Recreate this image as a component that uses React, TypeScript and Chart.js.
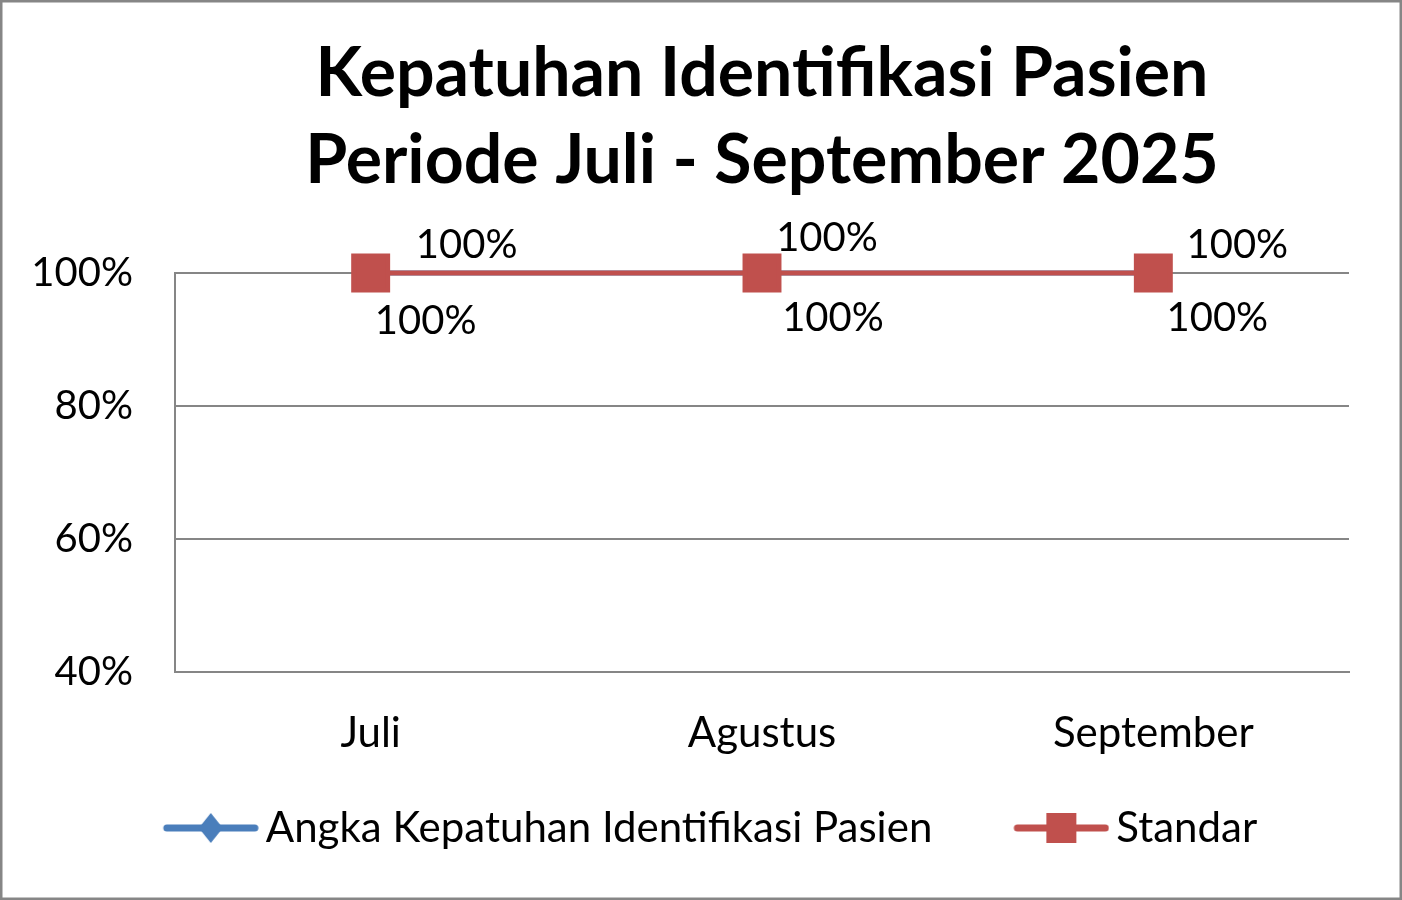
import React, { useEffect, useRef } from 'react';
import { Chart, registerables } from 'chart.js';

Chart.register(...registerables);

const months = ['Juli', 'Agustus', 'September'];
const kepatuhan = [100, 100, 100];
const standar = [100, 100, 100];
const yTicks = [40, 60, 80, 100];

const BLUE = '#4A7EBB';
const RED = '#C0504D';
const GRID = '#868686';
const FONT = 'Lato, "Noto Sans", sans-serif';

// label offsets (Excel placed them a bit to the right)
const labelOffsets = [
    [[96, -28], [65, -35], [84, -28]],
    [[55, 48], [71, 45], [64, 45]],
];

function legendIcon(color: string, marker: 'diamond' | 'square') {
    const c = document.createElement('canvas');
    c.width = 181;
    c.height = 40;
    const ctx = c.getContext('2d')!;
    const x0 = 85;
    const x1 = 181;
    const cy = 20;
    ctx.strokeStyle = color;
    ctx.lineWidth = 7;
    ctx.lineCap = 'round';
    ctx.beginPath();
    ctx.moveTo(x0 + 4, cy);
    ctx.lineTo(x1 - 4, cy);
    ctx.stroke();
    ctx.fillStyle = color;
    const mx = (x0 + x1) / 2;
    if (marker === 'diamond') {
        ctx.beginPath();
        ctx.moveTo(mx, cy - 15);
        ctx.lineTo(mx + 12, cy);
        ctx.lineTo(mx, cy + 15);
        ctx.lineTo(mx - 12, cy);
        ctx.closePath();
        ctx.fill();
    } else {
        ctx.fillRect(mx - 15, cy - 15, 30, 30);
    }
    return c;
}

const labelPlugin = {
    id: 'pointLabels',
    afterDatasetsDraw(chart: any) {
        const ctx = chart.ctx;
        ctx.save();
        ctx.font = `40px ${FONT}`;
        ctx.fillStyle = '#000';
        ctx.textAlign = 'center';
        ctx.textBaseline = 'middle';
        chart.data.datasets.forEach((ds: any, i: number) => {
            const meta = chart.getDatasetMeta(i);
            meta.data.forEach((pt: any, j: number) => {
                const [dx, dy] = labelOffsets[i][j];
                ctx.fillText(`${ds.data[j]}%`, pt.x + dx, pt.y + dy);
            });
        });
        ctx.restore();
    },
};

const borderPlugin = {
    id: 'outerBorder',
    beforeDraw(chart: any) {
        const ctx = chart.ctx;
        ctx.save();
        ctx.fillStyle = '#fff';
        ctx.fillRect(0, 0, chart.width, chart.height);
        ctx.strokeStyle = GRID;
        ctx.lineWidth = 3;
        ctx.strokeRect(1, 1, chart.width - 2, chart.height - 2);
        ctx.restore();
    },
};

export default function App() {
    const canvasRef = useRef<HTMLCanvasElement>(null);
    const chartRef = useRef<Chart | null>(null);

    useEffect(() => {
        document.body.style.margin = '0';
        if (!canvasRef.current) return;
        if (chartRef.current) chartRef.current.destroy();

        const icons = [legendIcon(BLUE, 'diamond'), legendIcon(RED, 'square')];

        chartRef.current = new Chart(canvasRef.current, {
            type: 'line',
            data: {
                labels: months,
                datasets: [
                    {
                        label: 'Angka Kepatuhan Identifikasi Pasien',
                        data: kepatuhan,
                        borderColor: BLUE,
                        backgroundColor: BLUE,
                        borderWidth: 5,
                        pointStyle: 'rectRot',
                        pointRadius: 14,
                        tension: 0,
                        clip: false,
                        order: 1,
                    },
                    {
                        label: 'Standar',
                        data: standar,
                        borderColor: RED,
                        backgroundColor: RED,
                        borderWidth: 5,
                        pointStyle: 'rect',
                        pointRadius: 24,
                        tension: 0,
                        clip: false,
                        order: 0,
                    },
                ],
            },
            options: {
                responsive: false,
                animation: false,
                layout: { padding: { top: 0, left: 0, right: 53, bottom: 41 } },
                plugins: {
                    title: {
                        display: true,
                        fullSize: false,
                        text: ['Kepatuhan Identifikasi Pasien', 'Periode Juli - September 2025'],
                        color: '#000',
                        font: { family: FONT, size: 68, weight: 'bold', lineHeight: 1.28 },
                        padding: { top: 31, bottom: 68 },
                    },
                    legend: {
                        position: 'bottom',
                        labels: {
                            color: '#000',
                            font: { family: FONT, size: 42 },
                            usePointStyle: true,
                            pointStyleWidth: 153,
                            padding: 10,
                            generateLabels: (chart: any) =>
                                chart.data.datasets.map((ds: any, i: number) => ({
                                    text: ds.label,
                                    pointStyle: icons[i],
                                    fillStyle: ds.borderColor,
                                    strokeStyle: ds.borderColor,
                                    lineWidth: 0,
                                    datasetIndex: i,
                                    fontColor: '#000',
                                })),
                        },
                    },
                    tooltip: { enabled: false },
                },
                scales: {
                    x: {
                        offset: true,
                        grid: { display: false, drawTicks: false },
                        border: { display: true, color: GRID, width: 2 },
                        ticks: { color: '#000', font: { family: FONT, size: 42 }, padding: 36 },
                        afterFit: (axis: any) => {
                            axis.height = 125;
                        },
                    },
                    y: {
                        min: 40,
                        max: 100,
                        afterBuildTicks: (axis: any) => {
                            axis.ticks = yTicks.map(v => ({ value: v }));
                        },
                        grid: { color: GRID, lineWidth: 2, drawTicks: false },
                        border: { display: true, color: GRID, width: 2 },
                        ticks: {
                            color: '#000',
                            font: { family: FONT, size: 40 },
                            padding: 42,
                            callback: (v: any) => `${v}%`,
                        },
                        afterFit: (axis: any) => {
                            axis.width = 175;
                        },
                    },
                },
            },
            plugins: [borderPlugin, labelPlugin],
        });

        return () => {
            if (chartRef.current) {
                chartRef.current.destroy();
                chartRef.current = null;
            }
        };
    }, []);

    return <canvas ref={canvasRef} width={1402} height={900} />;
}
